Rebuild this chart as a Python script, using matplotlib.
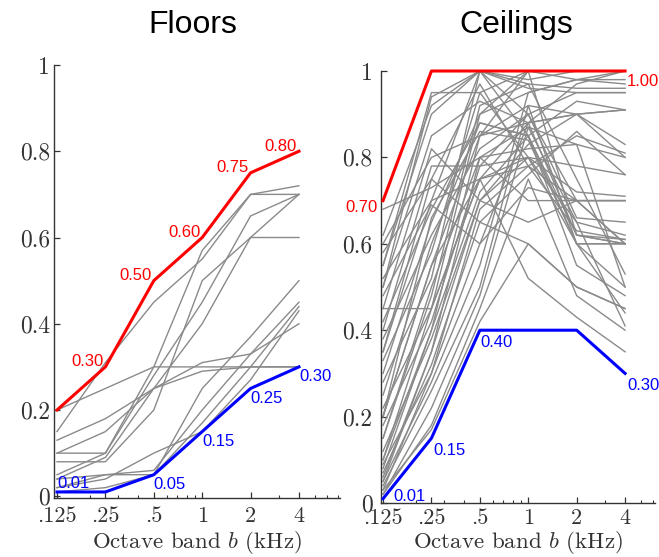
import matplotlib
matplotlib.use("Agg")
import matplotlib.pyplot as plt
from matplotlib.ticker import FixedLocator, LogLocator, NullFormatter

plt.rcParams["mathtext.fontset"] = "cm"
plt.rcParams["axes.formatter.use_mathtext"] = True

# Octave band centre frequencies (kHz)
bands = [0.125, 0.25, 0.5, 1, 2, 4]
band_labels = [".125", ".25", ".5", "1", "2", "4"]
y_ticks = [0, 0.2, 0.4, 0.6, 0.8, 1.0]
y_labels = ["0", "0.2", "0.4", "0.6", "0.8", "1"]

# Floor absorption coefficients
floor_upper = [0.20, 0.30, 0.50, 0.60, 0.75, 0.80]
floor_lower = [0.01, 0.01, 0.05, 0.15, 0.25, 0.30]
floor_materials = [
    [0.20, 0.25, 0.30, 0.30, 0.30, 0.30],
    [0.15, 0.31, 0.45, 0.55, 0.70, 0.70],
    [0.10, 0.15, 0.25, 0.31, 0.33, 0.45],
    [0.08, 0.08, 0.20, 0.50, 0.60, 0.60],
    [0.10, 0.10, 0.30, 0.57, 0.70, 0.72],
    [0.05, 0.10, 0.28, 0.45, 0.65, 0.70],
    [0.04, 0.09, 0.25, 0.40, 0.60, 0.70],
    [0.02, 0.05, 0.05, 0.25, 0.37, 0.50],
    [0.01, 0.02, 0.05, 0.17, 0.30, 0.44],
    [0.13, 0.18, 0.25, 0.29, 0.30, 0.30],
    [0.02, 0.04, 0.10, 0.15, 0.27, 0.43],
    [0.04, 0.05, 0.06, 0.20, 0.33, 0.40],
]

# Ceiling absorption coefficients
ceiling_upper = [0.70, 1.00, 1.00, 1.00, 1.00, 1.00]
ceiling_lower = [0.01, 0.15, 0.40, 0.40, 0.40, 0.30]
ceiling_materials = [
    [0.68, 0.73, 0.80, 0.82, 0.83, 0.80],
    [0.55, 0.95, 0.95, 1.00, 0.98, 0.98],
    [0.50, 0.94, 1.00, 0.97, 0.96, 0.96],
    [0.45, 0.45, 0.75, 0.78, 0.70, 0.70],
    [0.40, 0.78, 0.78, 0.80, 0.65, 0.62],
    [0.35, 0.70, 1.00, 0.90, 0.70, 0.60],
    [0.30, 0.65, 0.90, 0.95, 0.98, 1.00],
    [0.25, 0.60, 0.88, 0.85, 0.60, 0.60],
    [0.20, 0.55, 0.85, 0.92, 0.90, 0.83],
    [0.15, 0.50, 0.80, 0.70, 0.70, 0.70],
    [0.10, 0.45, 0.75, 0.88, 0.97, 1.00],
    [0.08, 0.40, 0.72, 0.85, 0.93, 0.91],
    [0.05, 0.35, 0.70, 0.80, 0.72, 0.71],
    [0.03, 0.30, 0.68, 0.78, 0.85, 0.81],
    [0.60, 0.80, 0.85, 0.88, 0.62, 0.60],
    [0.58, 0.75, 0.65, 0.60, 0.50, 0.45],
    [0.52, 0.70, 0.75, 0.80, 0.78, 0.76],
    [0.48, 0.69, 0.60, 0.73, 0.70, 0.60],
    [0.42, 0.68, 0.88, 0.85, 0.62, 0.61],
    [0.38, 0.62, 0.82, 0.90, 0.66, 0.65],
    [0.33, 0.58, 0.95, 0.80, 0.60, 0.50],
    [0.28, 0.52, 1.00, 0.85, 0.55, 0.48],
    [0.22, 0.45, 0.90, 1.00, 1.00, 1.00],
    [0.18, 0.42, 0.78, 0.90, 0.95, 0.95],
    [0.12, 0.38, 0.70, 0.83, 0.90, 0.91],
    [0.07, 0.32, 0.65, 0.76, 0.86, 0.76],
    [0.05, 0.28, 0.55, 0.95, 0.98, 0.97],
    [0.04, 0.26, 0.50, 0.92, 0.60, 0.44],
    [0.02, 0.22, 0.48, 0.87, 0.65, 0.41],
    [0.02, 0.18, 0.45, 0.75, 0.48, 0.40],
    [0.03, 0.17, 0.42, 0.60, 0.50, 0.45],
    [0.20, 0.55, 0.75, 0.52, 0.43, 0.35],
    [0.15, 0.48, 0.92, 0.97, 0.75, 0.53],
    [0.10, 0.40, 0.85, 1.00, 0.62, 0.60],
    [0.55, 0.90, 1.00, 0.96, 0.95, 0.95],
    [0.62, 0.92, 1.00, 0.98, 1.00, 1.00],
    [0.50, 0.85, 0.93, 0.88, 0.90, 0.91],
    [0.45, 0.82, 0.70, 0.65, 0.70, 0.70],
    [0.35, 0.75, 0.97, 0.78, 0.63, 0.61],
    [0.06, 0.35, 0.80, 0.87, 0.83, 0.50],
    [0.09, 0.30, 0.60, 0.88, 0.90, 0.80],
    [0.20, 0.66, 0.86, 0.84, 0.60, 0.60],
]

W, H = 659, 557
fig = plt.figure(figsize=(W / 100, H / 100), dpi=100)


def px_axes(left, top, right, bottom):
    return fig.add_axes([left / W, 1 - bottom / H, (right - left) / W, (bottom - top) / H])


ax_f = px_axes(54, 65, 340, 498)
ax_c = px_axes(381, 71, 655, 503)

GRAY = "#8a8a8a"
AXC = "#333333"


def style_axes(ax, xlim, ylim, ypad, x_pad):
    ax.set_xscale("log")
    ax.set_xlim(*xlim)
    ax.set_ylim(*ylim)
    ax.xaxis.set_major_locator(FixedLocator(bands))
    ax.xaxis.set_minor_locator(LogLocator(base=10, subs=range(2, 10)))
    ax.xaxis.set_minor_formatter(NullFormatter())
    ax.set_xticks(bands)
    ax.set_xticklabels(band_labels, fontfamily="cmr10", fontsize=16, color=AXC)
    ax.set_yticks(y_ticks)
    ax.set_yticklabels(y_labels, fontfamily="cmr10", fontsize=17, color=AXC)
    for s in ("top", "right"):
        ax.spines[s].set_visible(False)
    for s in ("left", "bottom"):
        ax.spines[s].set_color(AXC)
        ax.spines[s].set_linewidth(1.0)
    ax.tick_params(axis="both", which="major", direction="in", length=4, width=0.9, color=AXC)
    ax.tick_params(axis="both", which="minor", direction="in", length=2.5, width=0.8, color=AXC)
    ax.tick_params(axis="x", pad=x_pad)
    ax.tick_params(axis="y", pad=ypad)
    ax.set_xlabel(r"Octave band $b$ (kHz)", fontfamily="cmr10", fontsize=16.5,
                  color=AXC, va="center")
    # x-label centred 543 px below the top of the figure
    x_mid = ax.get_position().x0 + ax.get_position().width / 2
    ax.xaxis.set_label_coords(x_mid, 1 - 543 / H, transform=fig.transFigure)


def label(ax, x, y, text, color, dx, dy, ha):
    ax.annotate(text, (x, y), xytext=(dx, dy), textcoords="offset pixels",
                ha=ha, va="center", color=color, fontsize=12,
                fontfamily="Liberation Sans", annotation_clip=False)


def draw_panel(ax, materials, upper, lower):
    for row in materials:
        ax.plot(bands, row, color=GRAY, lw=1.0, zorder=2)
    ax.plot(bands, upper, color="red", lw=2.2, zorder=3, clip_on=False)
    ax.plot(bands, lower, color="blue", lw=2.2, zorder=3, clip_on=False)


# Floors panel
draw_panel(ax_f, floor_materials, floor_upper, floor_lower)
style_axes(ax_f, (0.1197, 7.2), (-0.004, 1.0), 3, 6)
for x, v in zip(bands[1:], floor_upper[1:]):
    label(ax_f, x, v, f"{v:.2f}", "red", -2, 5, "right")
label(ax_f, bands[0], floor_lower[0], f"{floor_lower[0]:.2f}", "blue", 0, 8, "left")
for x, v in zip(bands[2:], floor_lower[2:]):
    label(ax_f, x, v, f"{v:.2f}", "blue", 0, -10, "left")

# Ceilings panel
draw_panel(ax_c, ceiling_materials, ceiling_upper, ceiling_lower)
style_axes(ax_c, (0.1214, 6.14), (0.0, 1.0), 6, 4)
label(ax_c, bands[0], ceiling_upper[0], f"{ceiling_upper[0]:.2f}", "red", -5, -7, "right")
label(ax_c, bands[-1], ceiling_upper[-1], f"{ceiling_upper[-1]:.2f}", "red", 2, -11, "left")
label(ax_c, bands[0], ceiling_lower[0], f"{ceiling_lower[0]:.2f}", "blue", 10, 2, "left")
label(ax_c, bands[1], ceiling_lower[1], f"{ceiling_lower[1]:.2f}", "blue", 2, -12, "left")
label(ax_c, bands[2], ceiling_lower[2], f"{ceiling_lower[2]:.2f}", "blue", 1, -12, "left")
label(ax_c, bands[-1], ceiling_lower[-1], f"{ceiling_lower[-1]:.2f}", "blue", 2, -12, "left")

# Panel titles
fig.text(193 / W, 1 - 25 / H, "Floors", ha="center", va="center", fontsize=23,
         fontfamily="Liberation Sans", color="black")
fig.text(516 / W, 1 - 25 / H, "Ceilings", ha="center", va="center", fontsize=23,
         fontfamily="Liberation Sans", color="black")

fig.savefig("out.png", dpi=100)
